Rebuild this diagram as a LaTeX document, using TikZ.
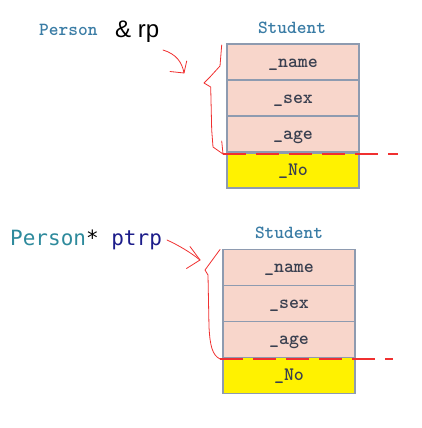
\documentclass[tikz,border=0pt]{standalone}
\usepackage{fontspec}
\newfontfamily\consfont{DejaVu Sans Mono}
\newfontfamily\sansfont{Liberation Sans}
\definecolor{pinkfill}{HTML}{F8D6CB}
\definecolor{boxline}{HTML}{8E9BB0}
\definecolor{fieldtext}{HTML}{3A4050}
\definecolor{tealtext}{HTML}{3A7CA5}
\definecolor{tealtwo}{HTML}{2E8A9C}
\definecolor{navytext}{HTML}{1C1C8A}
\definecolor{penred}{HTML}{F03030}
\tikzset{
  field/.style={draw=boxline, line width=1.6pt, fill=pinkfill, minimum width=132pt, minimum height=36pt, inner sep=0pt, text height=10pt, text depth=0pt, font=\ttfamily\bfseries\fontsize{19}{19}\selectfont, text=fieldtext},
  yfield/.style={field, fill=yellow},
  title/.style={font=\ttfamily\bfseries\fontsize{18.5}{18.5}\selectfont, text=tealtext, inner sep=0pt},
  pen/.style={draw=penred, line width=0.8pt, line join=round, line cap=round},
  cut/.style={draw=penred, line width=2pt, dash pattern=on 23pt off 10pt}
}
\begin{document}
\begin{tikzpicture}[x=1pt,y=-1pt]
\useasboundingbox (0,0) rectangle (422,428);
% ---------- top ----------
\node[title, anchor=west] (p1) at (39,30) {Person};
\node[font=\sansfont\fontsize{24}{24}\selectfont, anchor=west, inner sep=0pt] (rp) at (115,32) {\&~rp};
\node[title] (s1) at (292,28) {Student};
\node[field] (n1) at (293,62) {\_name};
\node[field] (x1) at (293,98) {\_sex};
\node[field] (a1) at (293,134) {\_age};
\node[yfield, minimum height=35pt] (o1) at (293,170.5) {\_No};
\coordinate (c1s) at (223,154);
\coordinate (c1e) at (398,154);
\draw[cut] (c1s) -- (c1e);
\coordinate (t1) at (204,83);
\draw[pen] (221.7,45) -- (220,66) -- (210,77) -- (t1) -- (210.7,87) -- (211.7,130) -- (213,147) -- (c1s);
\draw[pen] (221.7,141) -- (223,154);
\coordinate (h1) at (184,73);
\draw[pen] (163,50) .. controls (176,54) and (182,62) .. (h1);
\draw[pen] (186.7,61) -- (h1) -- (170,71.5);
% ---------- bottom ----------
\node[font=\consfont\fontsize{21}{21}\selectfont, anchor=west, inner sep=0pt] (p2) at (10,240)
  {\textcolor{tealtwo}{Person}\textcolor{black}{*} \textcolor{navytext}{ptrp}};
\node[title] (s2) at (289,233) {Student};
\node[field] (n2) at (289,267.5) {\_name};
\node[field] (x2) at (289,303.5) {\_sex};
\node[field] (a2) at (289,339.5) {\_age};
\node[yfield] (o2) at (289,375.5) {\_No};
\coordinate (c2s) at (220,359);
\coordinate (c2e) at (393,359);
\draw[cut] (c2s) -- (c2e);
\coordinate (t2) at (205,270);
\draw[pen] (220,249.5) -- (t2) -- (208,275) -- (209,327) .. controls (210,345) and (212,355) .. (c2s);
\coordinate (h2) at (200,260);
\draw[pen] (167,240) .. controls (178,245) and (190,252) .. (h2);
\draw[pen] (190,246.5) -- (h2) -- (186.5,268.5);
\end{tikzpicture}
\end{document}
